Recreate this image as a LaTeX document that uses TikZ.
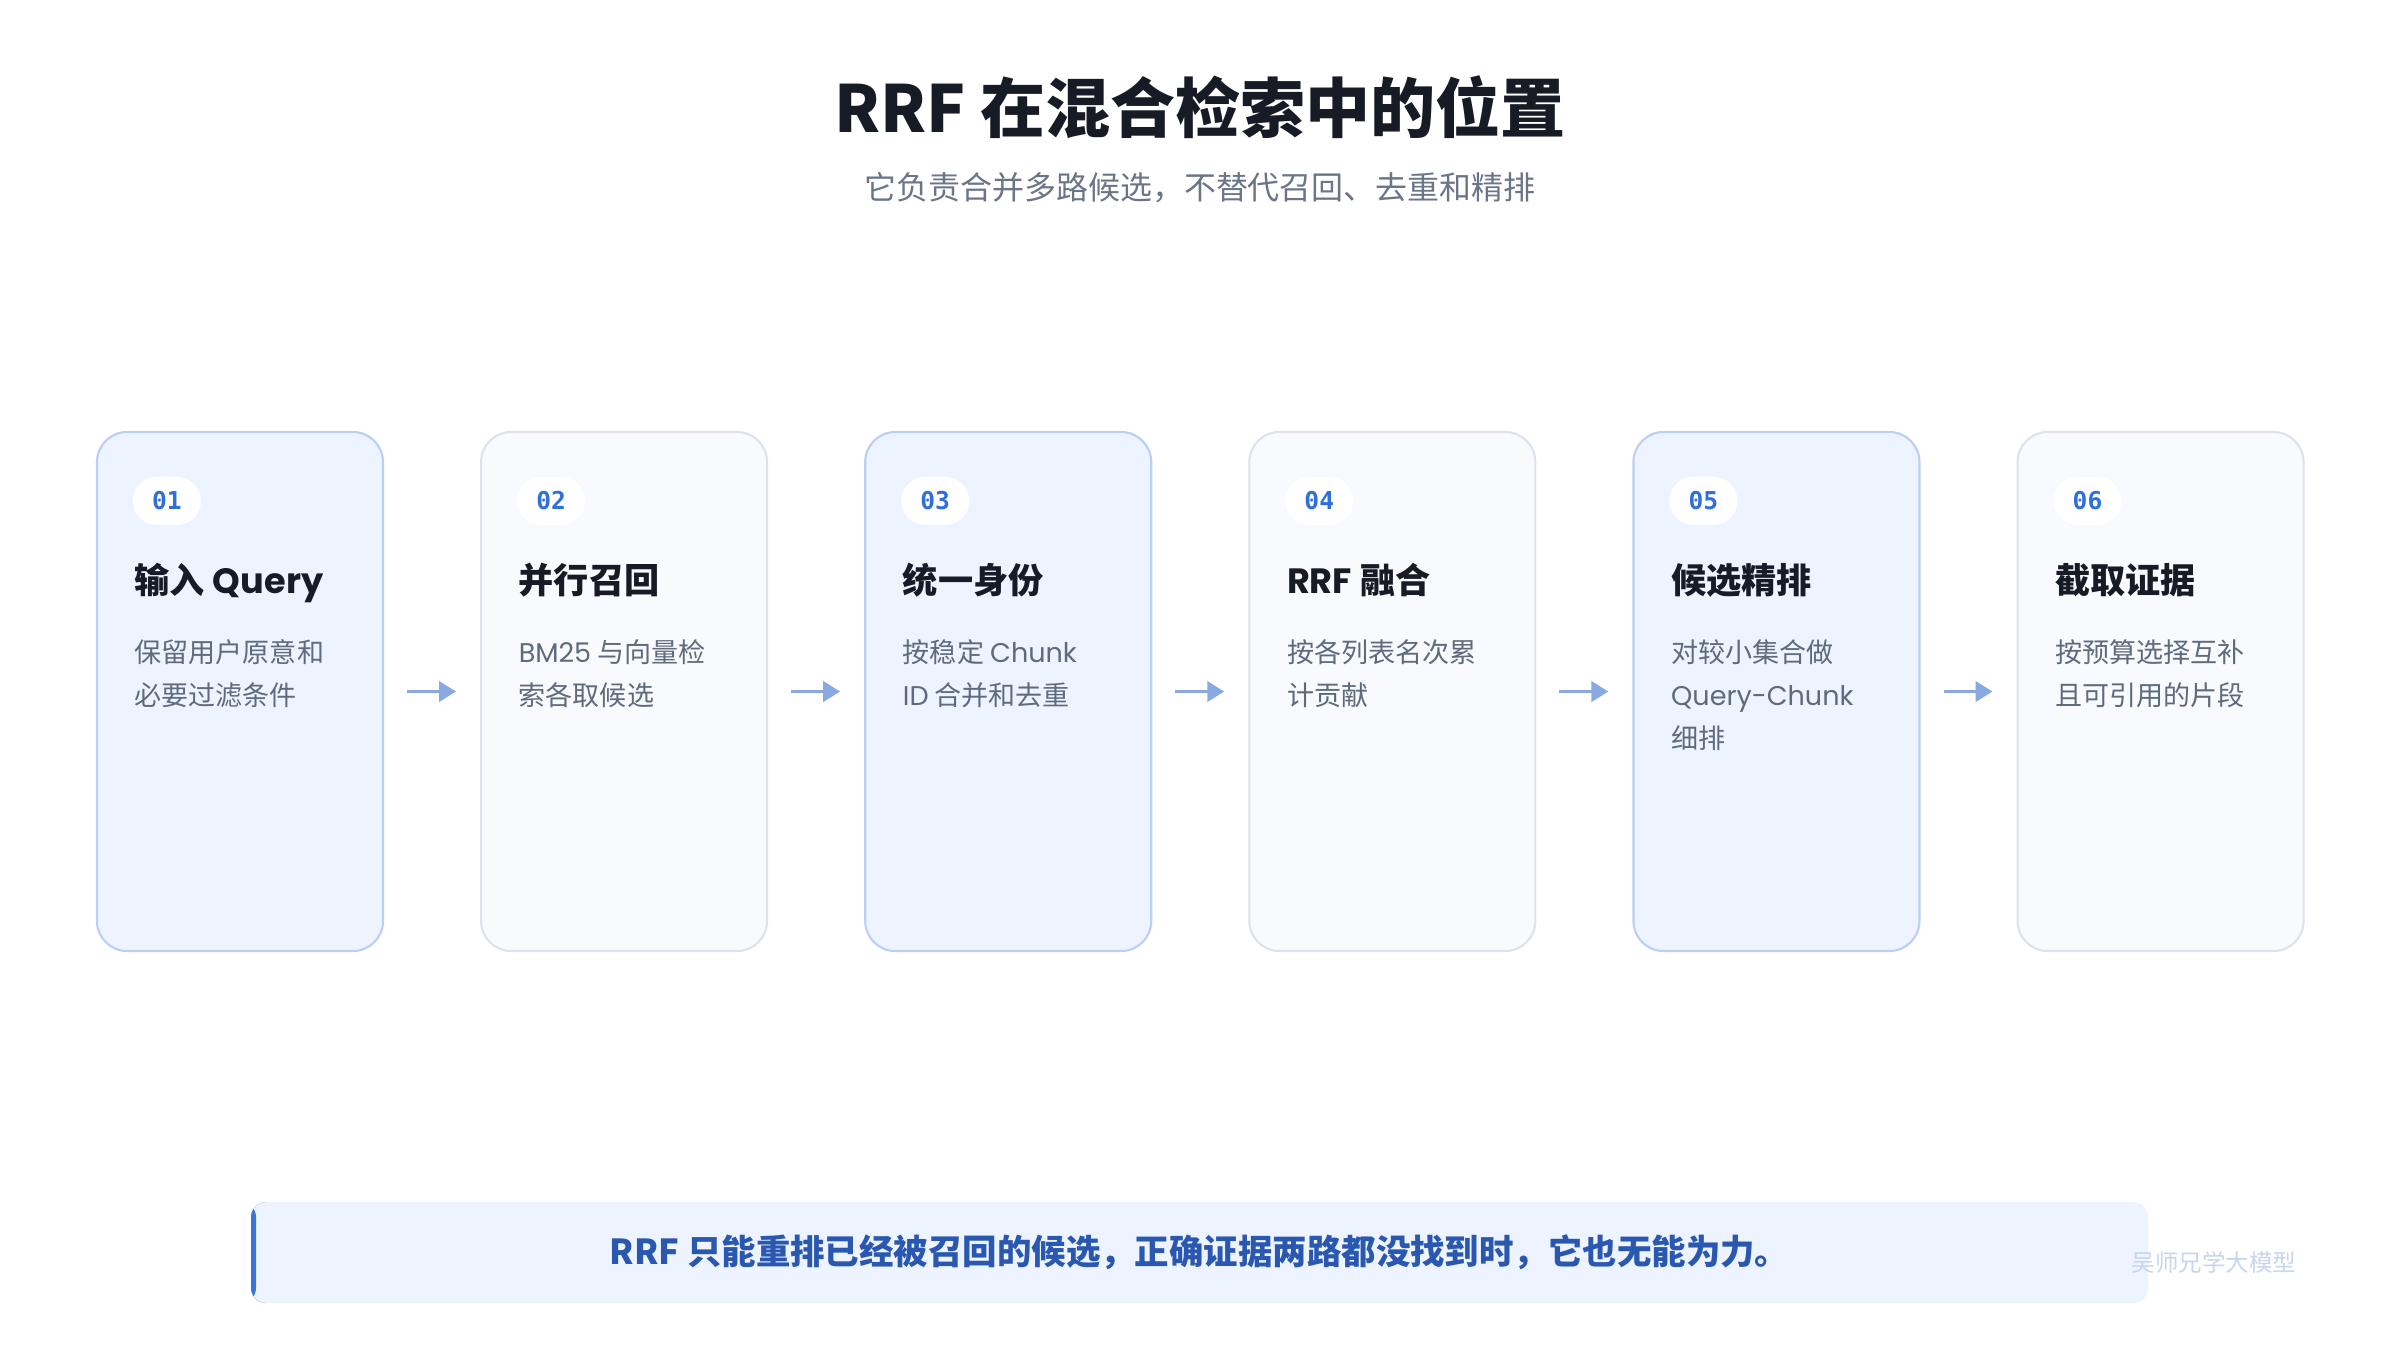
\documentclass[tikz,border=0pt]{standalone}
\usepackage{fontspec}
\setmainfont{Noto Sans CJK SC}
\newfontfamily\numfont{DejaVu Sans Mono}
\newfontfamily\latfont{Poppins}
\definecolor{inkdark}{HTML}{171B25}
\definecolor{subgray}{HTML}{6B7587}
\definecolor{descgray}{HTML}{5E6A7D}
\definecolor{numblue}{HTML}{2F6FDC}
\definecolor{bluefill}{HTML}{EEF4FF}
\definecolor{blueline}{HTML}{B9CFF3}
\definecolor{grayfill}{HTML}{F8FAFD}
\definecolor{grayline}{HTML}{DDE3EC}
\definecolor{arrowblue}{HTML}{8AA9E0}
\definecolor{notefill}{HTML}{EDF3FF}
\definecolor{notetext}{HTML}{2A58B0}
\definecolor{accent}{HTML}{3B74DB}
\definecolor{markgray}{HTML}{C8D5EF}
\newcommand{\lat}[1]{{\latfont #1}}
\newcommand{\topline}{\rule{0pt}{0.26cm}}
\usetikzlibrary{arrows.meta, positioning}

\begin{document}
\begin{tikzpicture}[
  node distance=0.96cm,
  card/.style={rounded corners=0.3cm, minimum width=2.86cm, minimum height=5.19cm,
               line width=0.6pt},
  bluecard/.style={card, draw=blueline, fill=bluefill},
  graycard/.style={card, draw=grayline, fill=grayfill},
  pill/.style={fill=white, rounded corners=0.24cm, minimum width=0.68cm, minimum height=0.48cm,
               inner sep=0pt, text=numblue, font=\numfont\bfseries\fontsize{7}{8}\selectfont},
  cardtitle/.style={anchor=base west, inner sep=0pt, text=inkdark,
                    font=\bfseries\fontsize{10}{12}\selectfont},
  desc/.style={anchor=north west, inner sep=0pt, align=left, text=descgray,
               font=\fontsize{7.7}{12.2}\selectfont},
  arr/.style={-{Triangle[length=0.17cm, width=0.2cm]}, line width=1.1pt, arrowblue,
              shorten <=0.23cm, shorten >=0.24cm}
]
\fill[white] (0,0) rectangle (24,-13.5);
\useasboundingbox (0,0) rectangle (24,-13.5);

% Heading
\node[font=\bfseries\fontsize{18.5}{22}\selectfont, text=inkdark] (title) at (12,-1.07)
  {RRF 在混合检索中的位置};
\node[font=\fontsize{9.1}{11}\selectfont, text=subgray] (subtitle) at (12,-1.88)
  {它负责合并多路候选，不替代召回、去重和精排};

% Cards
\node[bluecard] (c1) at (2.40,-6.915) {};
\node[graycard, right=of c1] (c2) {};
\node[bluecard, right=of c2] (c3) {};
\node[graycard, right=of c3] (c4) {};
\node[bluecard, right=of c4] (c5) {};
\node[graycard, right=of c5] (c6) {};

\draw[arr] (c1) -- (c2);
\draw[arr] (c2) -- (c3);
\draw[arr] (c3) -- (c4);
\draw[arr] (c4) -- (c5);
\draw[arr] (c5) -- (c6);

% Card contents
\foreach \c/\n in {c1/01, c2/02, c3/03, c4/04, c5/05, c6/06}
  \node[pill] (\c-num) at ([shift={(0.71,-0.70)}]\c.north west) {\n};

\node[cardtitle] (c1-title) at ([shift={(0.38,-1.63)}]c1.north west) {输入 \lat{Query}};
\node[cardtitle] (c2-title) at ([shift={(0.38,-1.63)}]c2.north west) {并行召回};
\node[cardtitle] (c3-title) at ([shift={(0.38,-1.63)}]c3.north west) {统一身份};
\node[cardtitle] (c4-title) at ([shift={(0.38,-1.63)}]c4.north west) {\lat{RRF} 融合};
\node[cardtitle] (c5-title) at ([shift={(0.38,-1.63)}]c5.north west) {候选精排};
\node[cardtitle] (c6-title) at ([shift={(0.38,-1.63)}]c6.north west) {截取证据};

\node[desc] (c1-desc) at ([shift={(0.38,-2.05)}]c1.north west) {\topline 保留用户原意和\\必要过滤条件};
\node[desc] (c2-desc) at ([shift={(0.38,-2.05)}]c2.north west) {\topline\lat{BM25} 与向量检\\索各取候选};
\node[desc] (c3-desc) at ([shift={(0.38,-2.05)}]c3.north west) {\topline 按稳定 \lat{Chunk}\\\lat{ID} 合并和去重};
\node[desc] (c4-desc) at ([shift={(0.38,-2.05)}]c4.north west) {\topline 按各列表名次累\\计贡献};
\node[desc] (c5-desc) at ([shift={(0.38,-2.05)}]c5.north west) {\topline 对较小集合做\\\lat{Query-Chunk}\\细排};
\node[desc] (c6-desc) at ([shift={(0.38,-2.05)}]c6.north west) {\topline 按预算选择互补\\且可引用的片段};

% Note bar
\node[fill=notefill, rounded corners=0.15cm, minimum width=18.97cm, minimum height=1.01cm,
      text=notetext, font=\bfseries\fontsize{9.8}{12}\selectfont,
      path picture={\fill[accent] (path picture bounding box.south west)
        rectangle ([xshift=0.05cm]path picture bounding box.north west);}]
  (note) at (11.995,-12.525)
  {RRF 只能重排已经被召回的候选，正确证据两路都没找到时，它也无能为力。};
\node[text=markgray, font=\fontsize{6.7}{8}\selectfont] (mark) at (22.14,-12.62) {吴师兄学大模型};
\end{tikzpicture}
\end{document}
